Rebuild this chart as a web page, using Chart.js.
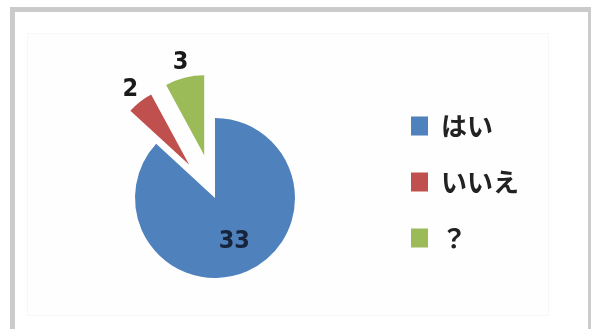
<!DOCTYPE html>
<html>
<head>
  <meta charset="utf-8">
  <title>アンケート結果</title>
  <script src="https://cdn.jsdelivr.net/npm/chart.js"></script>
  <style>
    body {
      margin: 0;
      background: #fff;
      overflow: hidden;
    }
    .frame {
      position: absolute;
      left: 10px;
      top: 7px;
      width: 583px;
      height: 400px;
      border: 5px solid #cbcbcb;
      box-sizing: border-box;
    }
    .plot {
      position: absolute;
      left: 27px;
      top: 33px;
      width: 522px;
      height: 283px;
      border: 1px solid #f7f7f7;
      background: #fefefe;
      box-sizing: border-box;
    }
    #chart {
      position: absolute;
      left: 0;
      top: 0;
    }
  </style>
</head>
<body>
  <div class="frame"></div>
  <div class="plot"></div>
  <canvas id="chart" width="591" height="329"></canvas>

  <script>
    const labels = ['はい', 'いいえ', '？'];
    const answers = [33, 2, 3];
    const colors = ['#4f81bd', '#c0504d', '#9bbb59'];

    // pull single slices away from the centre, keeping their radius
    const explode = {
      id: 'explode',
      afterDatasetUpdate(chart, args, opts) {
        args.meta.data.forEach((arc, i) => {
          const d = opts.distance[i] || 0;
          const mid = (arc.startAngle + arc.endAngle) / 2;
          arc.x += Math.cos(mid) * d;
          arc.y += Math.sin(mid) * d;
        });
      }
    };

    // value labels: inside the big slice, just outside the exploded ones
    const valueLabels = {
      id: 'valueLabels',
      afterDatasetsDraw(chart, args, opts) {
        const ctx = chart.ctx;
        const meta = chart.getDatasetMeta(0);
        ctx.save();
        ctx.font = opts.font;
        ctx.textAlign = 'center';
        ctx.textBaseline = 'middle';
        meta.data.forEach((arc, i) => {
          const mid = (arc.startAngle + arc.endAngle) / 2;
          const outside = opts.outside[i];
          const r = outside ? arc.outerRadius + 16 : arc.outerRadius * 0.6;
          ctx.fillStyle = outside ? opts.color : opts.insideColor;
          ctx.fillText(answers[i], arc.x + Math.cos(mid) * r, arc.y + Math.sin(mid) * r);
        });
        ctx.restore();
      }
    };

    new Chart(document.getElementById('chart'), {
      type: 'pie',
      data: {
        labels: labels,
        datasets: [{
          data: answers,
          backgroundColor: colors,
          borderWidth: 0,
          radius: 80
        }]
      },
      options: {
        responsive: false,
        animation: false,
        events: [],
        layout: {
          padding: { left: 49, right: 62, top: 83, bottom: 16 }
        },
        plugins: {
          legend: {
            position: 'right',
            align: 'start',
            labels: {
              boxWidth: 17,
              boxHeight: 19,
              padding: 30,
              color: '#222',
              font: { family: '"Noto Sans CJK JP"', size: 26, weight: 'bold' }
            }
          },
          tooltip: { enabled: false },
          explode: { distance: [0, 42, 44] },
          valueLabels: {
            outside: [false, true, true],
            font: 'bold 25px "DejaVu Sans Condensed", "DejaVu Sans", sans-serif',
            color: '#1a1a1a',
            insideColor: '#16243c'
          }
        }
      },
      plugins: [explode, valueLabels]
    });
  </script>
</body>
</html>
